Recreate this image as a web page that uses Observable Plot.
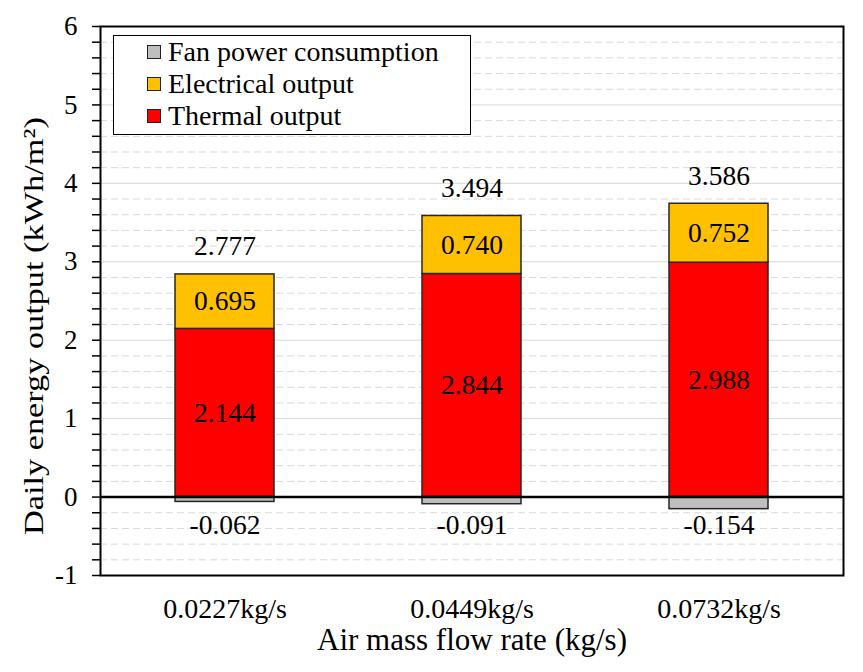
<!DOCTYPE html>
<html>
<head>
<meta charset="utf-8">
<script src="https://cdn.jsdelivr.net/npm/d3@7"></script>
<script src="https://cdn.jsdelivr.net/npm/@observablehq/plot@0.6"></script>
<style>
  html, body { margin: 0; padding: 0; background: #fff; }
  #wrap { position: relative; width: 863px; height: 672px; font-family: "Liberation Serif", "DejaVu Serif", serif; }
  #wrap svg text { font-family: "Liberation Serif", "DejaVu Serif", serif; }
  #legend { position: absolute; left: 113px; top: 35px; width: 358px; height: 100px; border: 1.5px solid #000; background: #fff; box-sizing: border-box; padding: 0 0 0 33px; font-family: "Liberation Serif", "DejaVu Serif", serif; }
  .row { display: flex; align-items: center; height: 32px; font-size: 28px; color: #000; }
  .sw { width: 12px; height: 12px; border: 1.5px solid #222; margin-right: 7px; }
</style>
</head>
<body>
<div id="wrap"></div>
<script>
const categories = ["0.0227kg/s", "0.0449kg/s", "0.0732kg/s"];
const seriesNames = ["Thermal output", "Electrical output", "Fan power consumption"];
const seriesColors = ["#ff0000", "#ffc000", "#bfbfbf"];
const thermal = [2.144, 2.844, 2.988];
const electrical = [0.695, 0.740, 0.752];
const fan = [-0.062, -0.091, -0.154];
const totals = [2.777, 3.494, 3.586];
const yTicks = [-1, 0, 1, 2, 3, 4, 5, 6];
const legendOrder = ["Fan power consumption", "Electrical output", "Thermal output"];

const seriesValues = [thermal, electrical, fan];
const rows = [];
seriesNames.forEach((s, i) => categories.forEach((c, j) => rows.push({cat: c, series: s, value: seriesValues[i][j]})));
const posRows = rows.filter(d => d.value > 0);
const fanRows = categories.map((c, j) => ({cat: c, value: fan[j]}));
const totalRows = categories.map((c, j) => ({cat: c, top: thermal[j] + electrical[j], total: totals[j]}));
const minorTicks = d3.range(-10, 61, 2).map(v => v / 10).filter(v => !Number.isInteger(v));

const font = '"Liberation Serif", "DejaVu Serif", serif';
const chart = Plot.plot({
  width: 863,
  height: 672,
  marginLeft: 100,
  marginRight: 20,
  marginTop: 26,
  marginBottom: 97,
  style: {fontFamily: font, fontSize: "27px", color: "#000", background: "#fff"},
  x: {domain: categories, paddingInner: 0.6, paddingOuter: 0.3, label: null},
  y: {domain: [-1, 6], label: null},
  color: {domain: seriesNames, range: seriesColors},
  marks: [
    Plot.gridY(minorTicks, {stroke: "#d9d9d9", strokeOpacity: 1, strokeDasharray: "7,4"}),
    Plot.gridY(yTicks, {stroke: "#d9d9d9", strokeOpacity: 1}),
    Plot.barY(rows, Plot.stackY({x: "cat", y: "value", fill: "series", stroke: "#262626", strokeWidth: 1.5})),
    Plot.ruleY([0], {stroke: "#000", strokeWidth: 2.5}),
    Plot.text(posRows, Plot.stackY({x: "cat", y: "value", text: d => d.value.toFixed(3), fontSize: 27.5, fill: "#000"})),
    Plot.text(totalRows, {x: "cat", y: "top", text: d => d.total.toFixed(3), dy: -28, fontSize: 27.5, fill: "#000"}),
    Plot.text(fanRows, {x: "cat", y: () => 0, text: d => d.value.toFixed(3), dy: 28, fontSize: 27.5, fill: "#000"}),
    Plot.axisY({ticks: yTicks, tickSize: 8, tickPadding: 15, tickFormat: d => (d < 0 ? "-" : "") + Math.abs(d), fontSize: 27, label: null, strokeWidth: 1.5}),
    Plot.axisY({ticks: minorTicks, tickSize: 8, tickFormat: () => "", label: null, strokeWidth: 1.5}),
    Plot.axisX({tickSize: 0, tickPadding: 23, fontSize: 28, label: null}),
    Plot.text(["Air mass flow rate (kg/s)"], {frameAnchor: "bottom", lineAnchor: "middle", dy: 65, fontSize: 31, fill: "#000"}),
    Plot.text(["Daily energy output (kWh/m²)"], {frameAnchor: "left", textAnchor: "middle", lineAnchor: "middle", rotate: -90, dx: -66, dy: 25, fontSize: 28, fill: "#000", className: "ytitle"}),
    Plot.frame({stroke: "#000", strokeWidth: 2})
  ]
});

// stretch the y-axis title to the reference's length
d3.select(chart).selectAll("g.ytitle text").attr("textLength", 418).attr("lengthAdjust", "spacingAndGlyphs");

const wrap = document.getElementById("wrap");
wrap.appendChild(chart);
const legend = document.createElement("div");
legend.id = "legend";
legendOrder.forEach(name => {
  const row = document.createElement("div");
  row.className = "row";
  const sw = document.createElement("div");
  sw.className = "sw";
  sw.style.background = seriesColors[seriesNames.indexOf(name)];
  const label = document.createElement("span");
  label.textContent = name;
  row.appendChild(sw);
  row.appendChild(label);
  legend.appendChild(row);
});
wrap.appendChild(legend);
</script>
</body>
</html>
